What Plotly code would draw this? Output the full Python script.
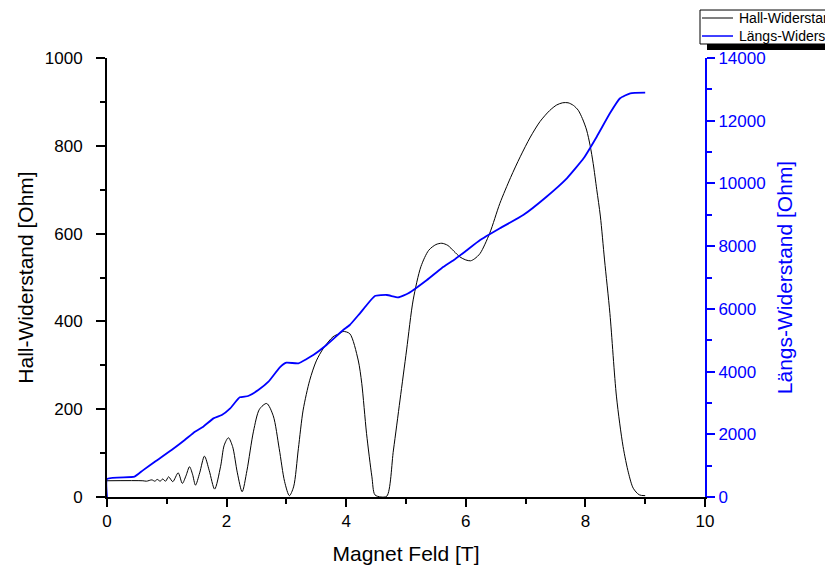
import plotly.graph_objects as go

# Hall-Widerstand [Ohm] vs Magnetfeld [T]
hall_b = [0.00, 0.60, 0.66, 0.75, 0.80, 0.84, 0.89, 0.93, 0.98, 1.03, 1.10, 1.19, 1.26, 1.32,
          1.38, 1.43, 1.48, 1.55, 1.63, 1.71, 1.80, 1.90, 1.96, 2.03, 2.10, 2.18, 2.26, 2.34,
          2.45, 2.55, 2.67, 2.78, 2.88, 2.97, 3.05, 3.12, 3.20, 3.28, 3.39, 3.50, 3.62, 3.78,
          3.88, 3.95, 4.06, 4.20, 4.26, 4.34, 4.43, 4.48, 4.58, 4.68, 4.79, 4.90, 5.01, 5.12,
          5.25, 5.38, 5.50, 5.60, 5.70, 5.80, 5.90, 6.00, 6.08, 6.15, 6.24, 6.40, 6.57, 6.75,
          6.91, 7.08, 7.24, 7.40, 7.52, 7.62, 7.71, 7.80, 7.88, 7.95, 8.02, 8.08, 8.13, 8.19,
          8.25, 8.32, 8.41, 8.52, 8.63, 8.72, 8.80, 8.90, 9.00]
hall_r = [37, 37, 36, 39, 36, 40, 36, 41, 36, 46, 35, 55, 31, 48,
          69, 52, 27, 55, 93, 60, 18, 70, 118, 135, 115, 55, 12, 60,
          150, 200, 213, 185, 110, 35, 3, 23, 110, 198, 266, 310, 339, 365,
          372, 377, 372, 312, 259, 145, 46, 5, 0, 2, 107, 221, 335, 449,
          525, 562, 575, 578, 573, 560, 547, 540, 538, 543, 555, 601, 669, 728,
          775, 820, 855, 880, 893, 898, 898, 892, 881, 862, 836, 800, 760, 700,
          640, 540, 418, 228, 115, 55, 20, 5, 3]

# Längs-Widerstand [Ohm] vs Magnetfeld [T]
long_b = [0.00, 0.00, 0.46, 0.60, 0.80, 1.08, 1.30, 1.47, 1.61, 1.78, 1.92, 2.06, 2.22, 2.36,
          2.53, 2.70, 2.89, 3.00, 3.20, 3.45, 3.67, 3.95, 4.06, 4.23, 4.48, 4.68, 4.87, 5.04,
          5.35, 5.60, 5.80, 6.00, 6.24, 6.57, 6.96, 7.35, 7.69, 7.97, 8.19, 8.41, 8.58, 8.75, 9.00]
long_r = [0, 574, 648, 850, 1126, 1499, 1818, 2083, 2242, 2508, 2615, 2827, 3179, 3221,
          3412, 3677, 4136, 4283, 4264, 4528, 4847, 5326, 5485, 5858, 6410, 6442, 6368, 6496,
          6920, 7303, 7558, 7845, 8196, 8569, 8993, 9577, 10163, 10801, 11491, 12236, 12715, 12874, 12895]

series_names = ["Hall-Widerstand", "Längs-Widerstand"]

FONT = "Liberation Sans, Arial, sans-serif"
BLUE = "#0000FF"

fig = go.Figure()
fig.add_trace(go.Scatter(x=hall_b, y=hall_r, mode="lines", name=series_names[0],
                         line=dict(color="black", width=1, shape="spline", smoothing=0.8)))
fig.add_trace(go.Scatter(x=long_b, y=long_r, mode="lines", name=series_names[1], yaxis="y2",
                         line=dict(color=BLUE, width=1.8, shape="spline", smoothing=0.4)))

# manual legend box (paper coordinates; plot area = 107..705 x 58..497 px)
shapes = [
    dict(type="rect", xref="paper", yref="paper", x0=1.00334, x1=1.4, y0=1.0182, y1=1.0319,
         fillcolor="black", line=dict(width=0)),
    dict(type="rect", xref="paper", yref="paper", x0=0.99164, x1=1.4, y0=1.0319, y1=1.1093,
         fillcolor="white", line=dict(color="black", width=1)),
    dict(type="line", xref="paper", yref="paper", x0=0.99498, x1=1.04682, y0=1.0911, y1=1.0911,
         line=dict(color="black", width=1)),
    dict(type="line", xref="paper", yref="paper", x0=0.99498, x1=1.04682, y0=1.0501, y1=1.0501,
         line=dict(color=BLUE, width=1.5)),
]
annotations = [
    dict(text=series_names[0], xref="paper", yref="paper", x=1.0535, y=1.0911,
         xanchor="left", yanchor="middle", showarrow=False, font=dict(size=14, color="black")),
    dict(text=series_names[1], xref="paper", yref="paper", x=1.0535, y=1.0501,
         xanchor="left", yanchor="middle", showarrow=False, font=dict(size=14, color="black")),
]

fig.update_layout(
    width=825, height=565,
    margin=dict(l=107, r=120, t=58, b=68, autoexpand=False),
    paper_bgcolor="white", plot_bgcolor="white",
    font=dict(family=FONT, size=17, color="black"),
    showlegend=False,
    xaxis=dict(range=[0, 10], tickvals=[0, 2, 4, 6, 8, 10], showgrid=False, zeroline=False,
               showline=True, linecolor="black", linewidth=2, ticks="outside", ticklen=8,
               tickwidth=1.5, tickcolor="black",
               minor=dict(dtick=1, ticks="outside", ticklen=5, tickcolor="black", tickwidth=1.5),
               title=dict(text="Magnet Feld [T]", font=dict(size=21), standoff=25)),
    yaxis=dict(range=[0, 1000], tickvals=[0, 200, 400, 600, 800, 1000], showgrid=False,
               zeroline=False, showline=True, linecolor="black", linewidth=2, ticks="outside",
               ticklen=9, tickwidth=1.5, tickcolor="black", ticklabelstandoff=10,
               minor=dict(dtick=100, ticks="outside", ticklen=5, tickcolor="black", tickwidth=1.5),
               title=dict(text="Hall-Widerstand [Ohm]", font=dict(size=21), standoff=5)),
    yaxis2=dict(range=[0, 14000], tickvals=[0, 2000, 4000, 6000, 8000, 10000, 12000, 14000],
                tickformat="d",
                overlaying="y", side="right", showgrid=False, zeroline=False, showline=True,
                linecolor=BLUE, linewidth=2, ticks="outside", ticklen=8, tickwidth=1.5,
                tickcolor=BLUE, tickfont=dict(color=BLUE),
                minor=dict(dtick=1000, ticks="outside", ticklen=5, tickcolor=BLUE, tickwidth=1.5),
                title=dict(text="Längs-Widerstand [Ohm]", font=dict(size=21, color=BLUE), standoff=13)),
    shapes=shapes,
    annotations=annotations,
)

fig.write_html("out.html", config={"displayModeBar": False},
               post_script="document.body.style.margin='0';document.body.style.overflow='hidden';")
